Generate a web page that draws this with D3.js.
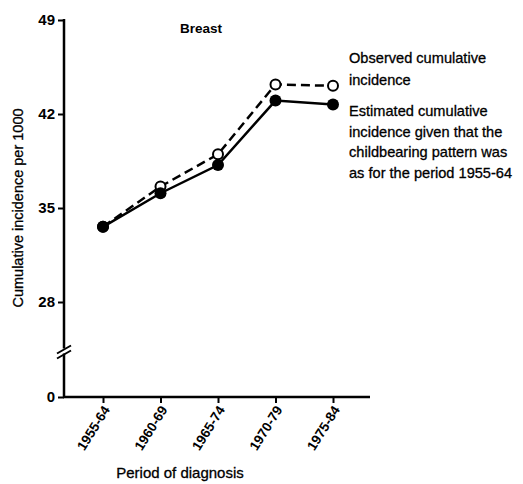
<!DOCTYPE html>
<html><head><meta charset="utf-8">
<script src="https://cdn.jsdelivr.net/npm/d3@7"></script>
<style>body{margin:0;background:#fff}svg{display:block}text{font-family:"Liberation Sans",Arial,sans-serif;fill:#000}</style>
</head><body>
<script>
const categories = ["1955-64","1960-69","1965-74","1970-79","1975-84"];
const observed = [33.6, 36.6, 39.0, 44.2, 44.1];
const estimated = [33.6, 36.1, 38.2, 43.0, 42.7];
const yTicks = [0, 28, 35, 42, 49];
const legendObserved = ["Observed cumulative","incidence"];
const legendEstimated = ["Estimated cumulative","incidence given that the","childbearing pattern was","as for the period 1955-64"];

const W=523,H=484;
const svg=d3.select("body").append("svg").attr("width",W).attr("height",H);
const x=d3.scalePoint().domain(categories).range([103,333]);
const y=d3.scaleLinear().domain([0,28,49]).range([397,302,20]);
const x0=64;
const FF="Liberation Sans, Arial, sans-serif";

// y axis
const yAxis=d3.axisLeft(y).tickValues(yTicks).tickSize(6).tickPadding(3).tickFormat(d3.format("d"));
const gy=svg.append("g").attr("transform",`translate(${x0},0)`).call(yAxis);
gy.select(".domain").remove();
gy.selectAll(".tick line").attr("stroke","#000").attr("stroke-width",2);
gy.selectAll(".tick text").attr("font-size",15).attr("font-weight","bold").attr("font-family",FF);
svg.append("line").attr("x1",x0).attr("x2",x0).attr("y1",y(49)-1).attr("y2",y(0)+1).attr("stroke","#000").attr("stroke-width",2.5);
// break marks
const yb=(y(28)+y(0))/2+3;
svg.append("rect").attr("x",x0-3).attr("y",yb-4).attr("width",6).attr("height",5).attr("fill","#fff");
[-3,2].forEach(o=>svg.append("line").attr("x1",x0-7).attr("x2",x0+7).attr("y1",yb+o+4).attr("y2",yb+o-4).attr("stroke","#000").attr("stroke-width",2));

// x axis
const xAxis=d3.axisBottom(x).tickSize(6).tickPadding(4);
const gx=svg.append("g").attr("transform",`translate(0,${y(0)})`).call(xAxis);
gx.select(".domain").remove();
gx.selectAll(".tick line").attr("stroke","#000").attr("stroke-width",2);
gx.selectAll(".tick text").attr("font-size",13.5).attr("font-weight","bold").attr("font-family",FF)
  .attr("text-anchor","end").attr("dy","0.35em").attr("transform","translate(3,10) rotate(-58)").attr("y",0).attr("x",0);
svg.append("line").attr("x1",x0-1).attr("x2",370).attr("y1",y(0)).attr("y2",y(0)).attr("stroke","#000").attr("stroke-width",2.5);

// lines
const line=d3.line().x((d,i)=>x(categories[i])).y(d=>y(d));
svg.append("path").datum(observed).attr("d",line).attr("fill","none").attr("stroke","#000").attr("stroke-width",2.5).attr("stroke-dasharray","9,5");
svg.append("path").datum(estimated).attr("d",line).attr("fill","none").attr("stroke","#000").attr("stroke-width",2.5);
svg.selectAll("circle.o").data(observed).enter().append("circle").attr("class","o")
  .attr("cx",(d,i)=>x(categories[i])).attr("cy",d=>y(d)).attr("r",5).attr("fill","#fff").attr("stroke","#000").attr("stroke-width",2);
svg.selectAll("circle.e").data(estimated).enter().append("circle").attr("class","e")
  .attr("cx",(d,i)=>x(categories[i])).attr("cy",d=>y(d)).attr("r",6).attr("fill","#000");

// title
svg.append("text").attr("x",201).attr("y",33).attr("text-anchor","middle").attr("font-size",13.5).attr("font-weight","bold").text("Breast");

// legend
legendObserved.forEach((t,i)=>svg.append("text").attr("x",349).attr("y",63+i*21.5).attr("font-size",14.6).attr("stroke","#000").attr("stroke-width",0.3).text(t));
legendEstimated.forEach((t,i)=>svg.append("text").attr("x",349).attr("y",116+i*20.5).attr("font-size",14.6).attr("stroke","#000").attr("stroke-width",0.3).text(t));

// axis titles
svg.append("text").attr("transform",`translate(23,${208}) rotate(-90)`).attr("text-anchor","middle").attr("font-size",14.5).attr("stroke","#000").attr("stroke-width",0.3).text("Cumulative incidence per 1000");
svg.append("text").attr("x",180).attr("y",478).attr("text-anchor","middle").attr("font-size",15).attr("stroke","#000").attr("stroke-width",0.3).text("Period of diagnosis");
</script>
</body></html>
